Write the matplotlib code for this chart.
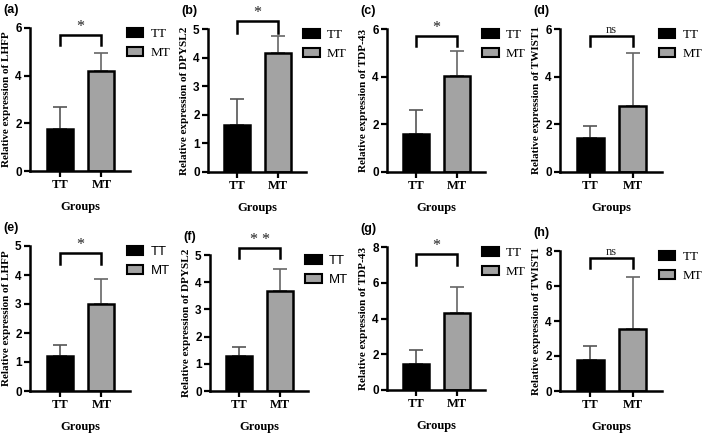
import matplotlib
matplotlib.use('Agg')
import matplotlib.pyplot as plt
from matplotlib.patches import Patch

# --- data ---
panel_labels = ['(a)', '(b)', '(c)', '(d)', '(e)', '(f)', '(g)', '(h)']
genes = ['LHFP', 'DPYSL2', 'TDP-43', 'TWIST1', 'LHFP', 'DPYSL2', 'TDP-43', 'TWIST1']
groups = ['TT', 'MT']
tt_mean = [1.78, 1.64, 1.60, 1.42, 1.22, 1.27, 1.47, 1.78]
tt_err = [0.92, 0.92, 1.01, 0.51, 0.38, 0.35, 0.78, 0.77]
mt_mean = [4.19, 4.16, 4.01, 2.78, 3.01, 3.67, 4.29, 3.56]
mt_err = [0.77, 0.58, 1.05, 2.21, 0.85, 0.82, 1.46, 2.95]
y_max = [6, 5, 6, 6, 5, 5, 8, 8]
y_step = [2, 1, 2, 2, 1, 1, 2, 2]
signif = ['*', '*', '*', 'ns', '*', '* *', '*', 'ns']
bracket_top = [5.70, 5.27, 5.69, 5.72, 4.76, 5.27, 7.63, 7.62]
bracket_leg = [5.30, 4.86, 5.27, 5.27, 4.38, 4.88, 7.01, 7.04]
sans_legend = [False, False, False, False, True, True, False, False]

# axes boxes in pixels: left, top, right, bottom
boxes = [
    (30, 28, 130, 171), (208, 29, 306, 172), (387, 29, 485, 172), (560, 29, 662, 172),
    (30, 246, 130, 391), (210, 255, 308, 391), (387, 247, 485, 390), (560, 251, 662, 391),
]

W, H = 709, 434
SERIF = 'Liberation Serif'
SANS = 'Liberation Sans'
TT_COLOR = 'black'
MT_COLOR = '#a3a3a3'

fig = plt.figure(figsize=(W / 100, H / 100), dpi=100)

for i in range(8):
    l, t, r, b = boxes[i]
    ax = fig.add_axes([l / W, 1 - b / H, (r - l) / W, (b - t) / H])

    x = [0, 1]
    means = [tt_mean[i], mt_mean[i]]
    errs = [tt_err[i], mt_err[i]]
    ax.bar(x, means, width=0.63, color=[TT_COLOR, MT_COLOR],
           edgecolor='black', linewidth=1.8, zorder=2)
    for xi, m, e, c in zip(x, means, errs, ['#555555', '#666666']):
        ax.errorbar(xi, m, yerr=[[0], [e]], fmt='none', ecolor=c,
                    elinewidth=1.2, capsize=5, capthick=1.2, zorder=1)

    ax.set_xlim(-0.72, 1.69)
    ax.set_ylim(0, y_max[i])
    ax.set_yticks(range(0, y_max[i] + 1, y_step[i]))
    ax.set_xticks(x)
    ax.set_xticklabels(groups, fontfamily=SERIF, fontweight='bold', fontsize=9)
    for lab in ax.get_yticklabels():
        lab.set_fontfamily(SANS)
        lab.set_fontweight('bold')
        lab.set_fontsize(8.5)

    for side in ['top', 'right']:
        ax.spines[side].set_visible(False)
    for side in ['left', 'bottom']:
        ax.spines[side].set_linewidth(1.8)
    ax.tick_params(axis='both', width=1.6, length=4, pad=2)

    ax.set_ylabel(f'Relative expression of {genes[i]}', fontfamily=SERIF,
                  fontweight='bold', fontsize=8, labelpad=3)
    ax.set_xlabel('Groups', fontfamily=SERIF, fontweight='bold',
                  fontsize=9, labelpad=7)

    # significance bracket
    yt, yl = bracket_top[i], bracket_leg[i]
    ax.plot([0, 0, 1, 1], [yl, yt, yt, yl], color='black', lw=1.8,
            clip_on=False, solid_joinstyle='miter')
    is_ns = signif[i] == 'ns'
    ax.text(0.5, yt, signif[i], ha='center', va='bottom',
            fontsize=9 if is_ns else 11.5, fontfamily=SERIF,
            color='#222222', clip_on=False)

    # legend
    handles = [Patch(facecolor=TT_COLOR, edgecolor='black', linewidth=1.5),
               Patch(facecolor=MT_COLOR, edgecolor='black', linewidth=1.5)]
    ax.legend(handles, groups, loc='upper left', bbox_to_anchor=(0.97, 1.0),
              frameon=False, borderaxespad=0, borderpad=0,
              handlelength=1.25, handleheight=0.65,
              handletextpad=0.55, labelspacing=0.55,
              prop={'family': SANS if sans_legend[i] else SERIF, 'size': 9.5})

    fig.text((l - 27) / W, 1 - (t - 18) / H, panel_labels[i], fontfamily=SANS,
             fontweight='bold', fontsize=9, va='center', ha='left')

fig.savefig('out.png', dpi=100)
